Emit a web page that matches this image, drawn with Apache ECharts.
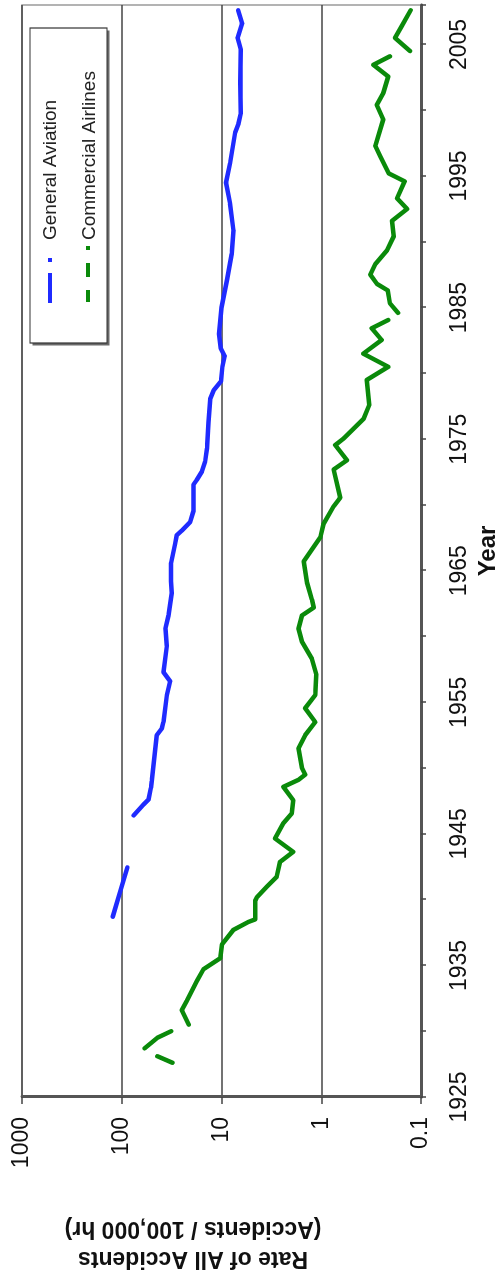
<!DOCTYPE html>
<html>
<head>
<meta charset="utf-8">
<script src="https://cdn.jsdelivr.net/npm/echarts@6/dist/echarts.min.js"></script>
<style>
html,body{margin:0;padding:0;width:497px;height:1274px;overflow:hidden;background:#fff;}
#chart{position:absolute;left:0;top:0;width:1274px;height:497px;transform-origin:0 0;transform:translate(0,1274px) rotate(-90deg);}
</style>
</head>
<body>
<div id="chart"></div>
<script>
// ---- data ----
const yearTickLabels = [1925, 1935, 1945, 1955, 1965, 1975, 1985, 1995, 2005];
const rateTickLabels = [0.1, 1, 10, 100, 1000];
const seriesNames = ['General Aviation', 'Commercial Airlines'];

const gaYears = [1938.7, 1940.6, 1942.45, 1944, 1946.4, 1947.2, 1947.6, 1948.5, 1949.0, 1952.5, 1953.0, 1953.5, 1955.55, 1956.6, 1957.3, 1959.3, 1960.6, 1961.6, 1963.3, 1964.2, 1965.6, 1967.05, 1967.7, 1968.05, 1968.7, 1969.55, 1971.55, 1971.9, 1972.55, 1973.3, 1974.3, 1976.3, 1978.05, 1978.7, 1979.4, 1980.5, 1981.3, 1981.9, 1983.0, 1985.0, 1987.1, 1989.1, 1990.9, 1992.9, 1994.5, 1996.0, 1998.3, 1999.0, 1999.8, 2002.1, 2004.6, 2005.5, 2006.6, 2007.6];
const gaRates = [123, 104, 88, null, 76, 61, 54, 51, 50, 44.6, 39.7, 38.2, 35.3, 32.7, 38.2, 35.3, 36.5, 34, 31.6, 32, 32, 29.2, 28.1, 25.0, 20.6, 19.1, 19.1, 17.7, 15.7, 14.6, 14.0, 13.5, 13.0, 12.0, 10.1, 9.8, 9.3, 10.2, 10.6, 10.0, 8.8, 7.9, 7.6, 8.2, 9.0, 8.2, 7.3, 6.75, 6.4, 6.5, 6.4, 6.9, 6.2, 6.8];

const caYears = [1927.6, 1928.1, 1928.4, 1928.7, 1929.5, 1930.0, 1930.25, 1930.5, 1931.6, 1932.3, 1933.8, 1934.7, 1935.55, 1936.6, 1937.7, 1938.3, 1938.5, 1939.9, 1940.2, 1940.97, 1941.73, 1942.87, 1943.63, 1944.65, 1945.8, 1946.55, 1947.56, 1948.57, 1949.1, 1949.5, 1950.0, 1951.5, 1952.5, 1953.5, 1954.55, 1955.55, 1957.1, 1958.3, 1959.6, 1960.6, 1961.6, 1962.2, 1962.8, 1964.1, 1965.7, 1967.55, 1968.55, 1969.9, 1970.55, 1972.7, 1973.4, 1974.55, 1975.05, 1975.8, 1976.55, 1977.6, 1979.5, 1980.5, 1981.5, 1982.54, 1983.43, 1984.06, 1984.3, 1984.6, 1985.33, 1986.3, 1986.8, 1987.5, 1988.3, 1989.35, 1990.4, 1991.6, 1992.5, 1993.3, 1994.6, 1995.2, 1996.5, 1997.3, 1999.3, 2000.4, 2001.3, 2002.57, 2003.45, 2004.1, 2004.3, 2004.5, 2005.5, 2006.4, 2007.6];
const caRates = [31, 44, null, 59, 44, 32, null, 21.3, 25, 22.3, 17.7, 15.2, 10.3, 9.9, 7.6, 5.4, 4.6, 4.6, 4.4, 3.52, 2.80, 2.59, 1.91, 2.91, 2.40, 1.98, 1.91, 2.40, 1.70, 1.45, 1.56, 1.69, 1.45, 1.15, 1.45, 1.15, 1.12, 1.24, 1.56, 1.69, 1.56, 1.19, 1.24, 1.39, 1.50, 1.02, 0.949, 0.751, 0.644, 0.751, 0.552, 0.724, 0.597, 0.474, 0.376, 0.33, 0.35, 0.213, 0.379, 0.248, 0.312, 0.213, null, 0.17, 0.205, 0.215, 0.276, 0.322, 0.287, 0.219, 0.188, 0.195, 0.138, 0.174, 0.146, 0.211, 0.256, 0.287, 0.239, 0.278, 0.239, 0.213, 0.301, 0.205, null, 0.129, 0.182, 0.156, 0.127];

// ---- chart ----
const FONT = '"Liberation Sans", Arial, sans-serif';
const BLUE = '#1f2bff';
const GREEN = '#0a8a0a';

function pairs(xs, ys) {
  return xs.map((x, i) => [x, ys[i] === null ? '-' : ys[i]]);
}

const chart = echarts.init(document.getElementById('chart'), null, {renderer: 'canvas'});

chart.setOption({
  animation: false,
  backgroundColor: '#fff',
  grid: {
    left: 177, right: 5, top: 22, bottom: 76,
    containLabel: false, outerBoundsMode: 'none',
    show: true, borderColor: '#9a9a9a', borderWidth: 1.5, backgroundColor: 'transparent'
  },
  xAxis: {
    type: 'value',
    min: 1925, max: 2008, interval: 5,
    name: 'Year', nameLocation: 'middle', nameGap: 54,
    nameTextStyle: {fontFamily: FONT, fontWeight: 'bold', fontSize: 24, color: '#111'},
    axisLine: {show: true, onZero: false, lineStyle: {color: '#555', width: 3}},
    axisTick: {show: true, length: 5, lineStyle: {color: '#444', width: 1.5}},
    axisLabel: {
      margin: 27, fontFamily: FONT, fontSize: 23, color: '#111',
      formatter: v => (yearTickLabels.indexOf(Math.round(v)) >= 0 && Math.abs(v - Math.round(v)) < 1e-6) ? String(Math.round(v)) : ''
    },
    splitLine: {show: false}
  },
  yAxis: {
    type: 'log', logBase: 10,
    min: rateTickLabels[0], max: rateTickLabels[rateTickLabels.length - 1],
    axisLine: {show: true, lineStyle: {color: '#555', width: 3}},
    axisTick: {show: true, length: 7, lineStyle: {color: '#444', width: 1.5}},
    axisLabel: {
      margin: 20, fontFamily: FONT, fontSize: 23, color: '#111',
      formatter: v => {
        const r = rateTickLabels.find(t => Math.abs(Math.log10(t) - Math.log10(v)) < 1e-6);
        return r === undefined ? '' : String(r);
      }
    },
    splitLine: {show: true, lineStyle: {color: '#444', width: 1.5}}
  },
  series: [
    {
      name: seriesNames[0], type: 'line', data: pairs(gaYears, gaRates),
      showSymbol: false, symbol: 'none', connectNulls: false,
      lineStyle: {color: BLUE, width: 4.5, cap: 'round', join: 'round'},
      itemStyle: {color: BLUE}, z: 3
    },
    {
      name: seriesNames[1], type: 'line', data: pairs(caYears, caRates),
      showSymbol: false, symbol: 'none', connectNulls: false,
      lineStyle: {color: GREEN, width: 4.5, cap: 'round', join: 'round'},
      itemStyle: {color: GREEN}, z: 3
    }
  ],
  graphic: [
    {
      type: 'rect', z: 10,
      shape: {x: 928.5, y: 32.5, width: 315, height: 77},
      style: {fill: '#6a6a6a', stroke: null}
    },
    {
      type: 'rect', z: 10,
      shape: {x: 931, y: 30, width: 315, height: 77},
      style: {fill: '#fff', stroke: '#333', lineWidth: 1.2}
    },
    {
      type: 'line', z: 11,
      shape: {x1: 971, y1: 50, x2: 1016, y2: 50},
      style: {stroke: BLUE, lineWidth: 4, lineDash: [30, 11, 4, 100]}
    },
    {
      type: 'line', z: 11,
      shape: {x1: 972, y1: 88, x2: 1028, y2: 88},
      style: {stroke: GREEN, lineWidth: 4, lineDash: [12, 13, 14, 13, 4, 100]}
    },
    {
      type: 'text', z: 11, x: 1034, y: 51,
      style: {text: seriesNames[0], font: '19px ' + FONT, fill: '#222',
        align: 'left', verticalAlign: 'middle', textAlign: 'left', textVerticalAlign: 'middle'}
    },
    {
      type: 'text', z: 11, x: 1034, y: 90,
      style: {text: seriesNames[1], font: '19px ' + FONT, fill: '#222',
        align: 'left', verticalAlign: 'middle', textAlign: 'left', textVerticalAlign: 'middle'}
    },
    {
      type: 'text', z: 11, x: 31, y: 193, rotation: Math.PI / 2,
      style: {text: 'Rate of All Accidents\n(Accidents / 100,000 hr)', font: 'bold 23px ' + FONT, fill: '#111',
        lineHeight: 30, align: 'center', verticalAlign: 'middle', textAlign: 'center', textVerticalAlign: 'middle'}
    }
  ]
});
</script>
</body>
</html>
